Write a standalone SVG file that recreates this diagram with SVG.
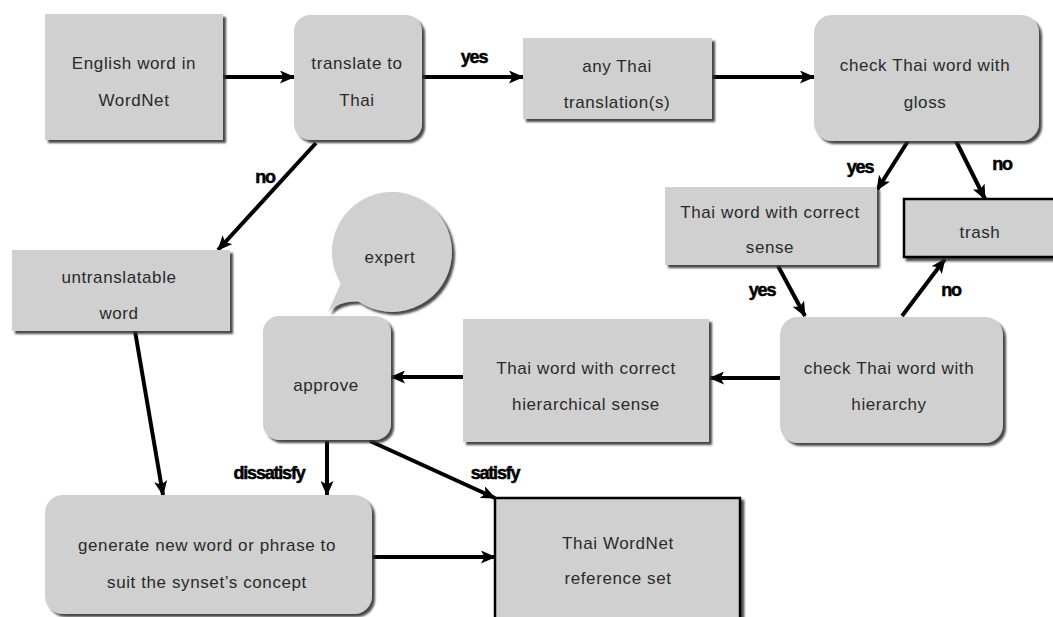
<svg xmlns="http://www.w3.org/2000/svg" width="1053" height="617" viewBox="0 0 1053 617">
<defs>
  <filter id="sh" x="-10%" y="-10%" width="125%" height="125%">
    <feGaussianBlur in="SourceAlpha" stdDeviation="1"/>
    <feOffset dx="3" dy="3" result="o"/>
    <feFlood flood-color="#333" flood-opacity="0.9"/>
    <feComposite in2="o" operator="in"/>
    <feMerge><feMergeNode/><feMergeNode in="SourceGraphic"/></feMerge>
  </filter>
  <marker id="ah" markerUnits="userSpaceOnUse" viewBox="0 0 15 13" refX="14" refY="6.5" markerWidth="15" markerHeight="13" orient="auto">
    <path d="M0,0 L15,6.5 L0,13 L3.5,6.5 z" fill="#000"/>
  </marker>
  <style>
    .n{fill:#d0d0d0;filter:url(#sh)}
    .b{fill:#d0d0d0;stroke:#000;stroke-width:2.5;filter:url(#sh)}
    .t{font-family:"Liberation Sans",Arial,sans-serif;font-size:17px;fill:#2a2a2a;text-anchor:middle;letter-spacing:0.6px}
    .l{font-family:"Liberation Sans",Arial,sans-serif;font-size:18px;font-weight:bold;fill:#000;stroke:#000;stroke-width:0.5;text-anchor:middle;letter-spacing:-1.2px}
    .c{stroke:#000;stroke-width:4;fill:none;marker-end:url(#ah)}
  </style>
</defs>
<rect width="1053" height="617" fill="#fff"/>

<g id="connectors">
  <line class="c" x1="223" y1="77" x2="294" y2="77"/>
  <line class="c" x1="422" y1="77" x2="523" y2="77"/>
  <line class="c" x1="712" y1="77" x2="814" y2="77"/>
  <line class="c" x1="316" y1="143" x2="218" y2="250"/>
  <line class="c" x1="908" y1="141" x2="877" y2="190"/>
  <line class="c" x1="956" y1="141" x2="985" y2="199"/>
  <line class="c" x1="778" y1="266" x2="805" y2="316"/>
  <line class="c" x1="902" y1="316" x2="945" y2="259"/>
  <line class="c" x1="780" y1="378" x2="710" y2="378"/>
  <line class="c" x1="463" y1="377" x2="391" y2="377"/>
  <line class="c" x1="135" y1="331" x2="163" y2="495"/>
  <line class="c" x1="327" y1="441" x2="327" y2="495"/>
  <line class="c" x1="370" y1="441" x2="495" y2="498"/>
  <line class="c" x1="372" y1="557" x2="495" y2="557"/>
  <text class="l" x="474" y="63">yes</text>
  <text class="l" x="265" y="183">no</text>
  <text class="l" x="860" y="173">yes</text>
  <text class="l" x="1002" y="170">no</text>
  <text class="l" x="762" y="296">yes</text>
  <text class="l" x="951" y="296">no</text>
  <text class="l" x="269" y="479">dissatisfy</text>
  <text class="l" x="495" y="479">satisfy</text>
</g>

<g id="english">
  <rect class="n" x="45" y="14" width="178" height="126"/>
  <text class="t" x="134" y="69">English word in</text>
  <text class="t" x="134" y="106">WordNet</text>
</g>
<g id="translate">
  <rect class="n" x="294" y="15" width="128" height="125" rx="16"/>
  <text class="t" x="357" y="69">translate to</text>
  <text class="t" x="357" y="106">Thai</text>
</g>
<g id="anythai">
  <rect class="n" x="523" y="38" width="189" height="81"/>
  <text class="t" x="617" y="72">any Thai</text>
  <text class="t" x="617" y="108">translation(s)</text>
</g>
<g id="gloss">
  <rect class="n" x="814" y="15" width="225" height="126" rx="18"/>
  <text class="t" x="925" y="71">check Thai word with</text>
  <text class="t" x="925" y="108">gloss</text>
</g>
<g id="sense">
  <rect class="n" x="665" y="187" width="212" height="78"/>
  <text class="t" x="770" y="218">Thai word with correct</text>
  <text class="t" x="770" y="253">sense</text>
</g>
<g id="trash">
  <rect class="b" x="904" y="199" width="152" height="58"/>
  <text class="t" x="980" y="238">trash</text>
</g>
<g id="hierarchy">
  <rect class="n" x="780" y="317" width="223" height="126" rx="18"/>
  <text class="t" x="889" y="374">check Thai word with</text>
  <text class="t" x="889" y="410">hierarchy</text>
</g>
<g id="hiersense">
  <rect class="n" x="463" y="319" width="246" height="123"/>
  <text class="t" x="586" y="374">Thai word with correct</text>
  <text class="t" x="586" y="410">hierarchical sense</text>
</g>
<g id="approve">
  <rect class="n" x="263" y="316" width="128" height="124" rx="16"/>
  <text class="t" x="326" y="391">approve</text>
</g>
<g id="expert">
  <path class="n" d="M340.8 283.3 L328 312 Q340 300 358.3 301.6 A60 60 0 1 0 340.8 283.3 Z"/>
  <text class="t" x="390" y="263">expert</text>
</g>
<g id="untranslatable">
  <rect class="n" x="12" y="250" width="218" height="81"/>
  <text class="t" x="119" y="283">untranslatable</text>
  <text class="t" x="119" y="319">word</text>
</g>
<g id="generate">
  <rect class="n" x="45" y="495" width="327" height="119" rx="18"/>
  <text class="t" x="207" y="551">generate new word or phrase to</text>
  <text class="t" x="207" y="588">suit the synset’s concept</text>
</g>
<g id="reference">
  <rect class="b" x="495" y="498" width="245" height="125"/>
  <text class="t" x="618" y="549">Thai WordNet</text>
  <text class="t" x="618" y="584">reference set</text>
</g>
</svg>
